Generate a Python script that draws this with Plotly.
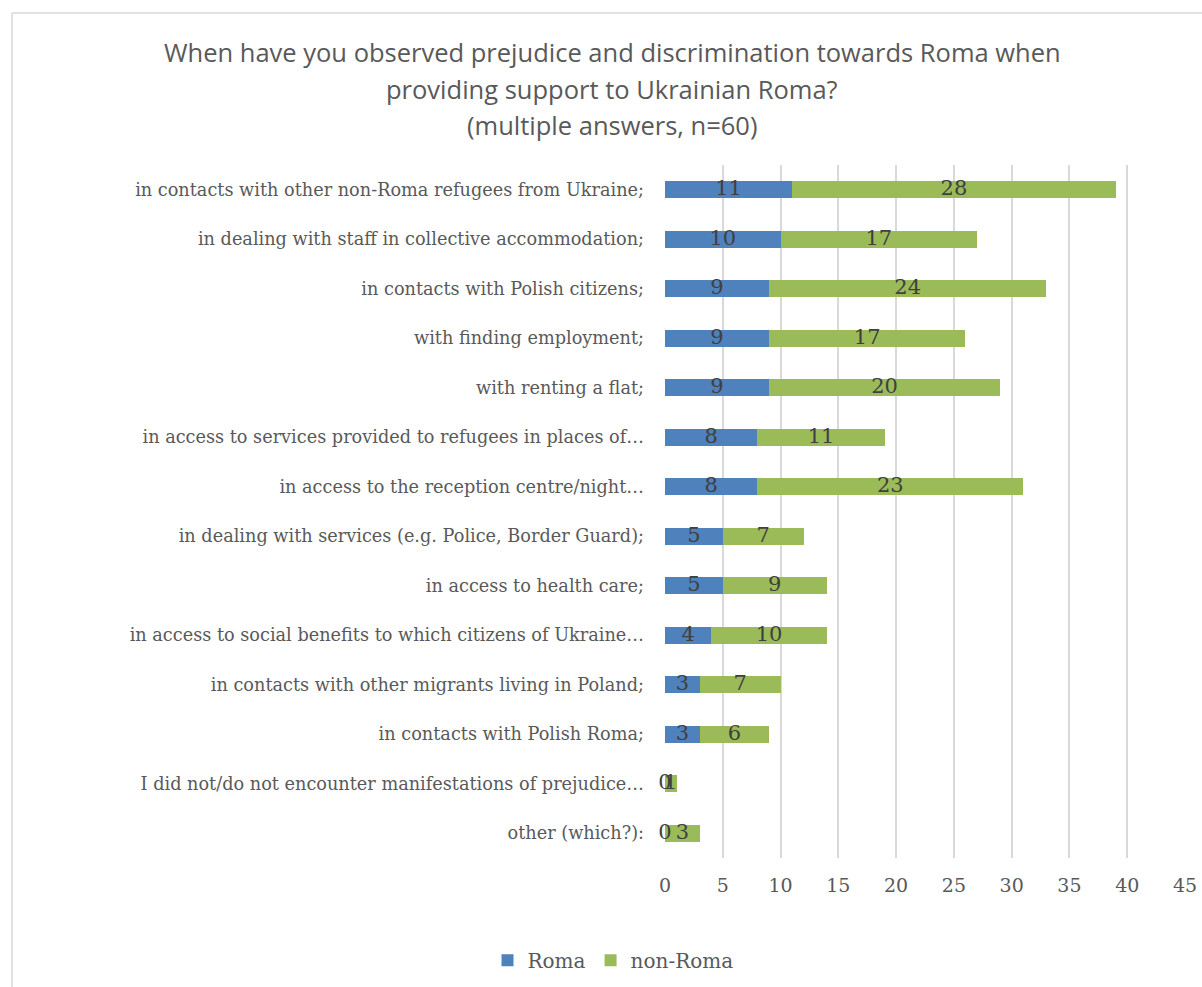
import plotly.graph_objects as go

# Survey answers, listed top to bottom as shown on the chart
categories = [
    "in contacts with other non-Roma refugees from Ukraine;",
    "in dealing with staff in collective accommodation;",
    "in contacts with Polish citizens;",
    "with finding employment;",
    "with renting a flat;",
    "in access to services provided to refugees in places of…",
    "in access to the reception centre/night…",
    "in dealing with services (e.g. Police, Border Guard);",
    "in access to health care;",
    "in access to social benefits to which citizens of Ukraine…",
    "in contacts with other migrants living in Poland;",
    "in contacts with Polish Roma;",
    "I did not/do not encounter manifestations of prejudice…",
    "other (which?):",
]
roma = [11, 10, 9, 9, 9, 8, 8, 5, 5, 4, 3, 3, 0, 0]
non_roma = [28, 17, 24, 17, 20, 11, 23, 7, 9, 10, 7, 6, 1, 3]
x_ticks = [0, 5, 10, 15, 20, 25, 30, 35, 40, 45]
title_lines = [
    "When have you observed prejudice and discrimination towards Roma when",
    "providing support to Ukrainian Roma?",
    "(multiple answers, n=60)",
]

BLUE = "#4F81BD"
GREEN = "#9BBB59"
GREY_TEXT = "#595959"
LABEL_TEXT = "#404040"
SERIF = "DejaVu Serif, Liberation Serif, serif"
SANS = "Open Sans, sans-serif"

fig = go.Figure()
fig.add_trace(go.Bar(
    y=categories, x=roma, orientation="h", name="Roma",
    marker=dict(color=BLUE, line=dict(width=0)),
))
fig.add_trace(go.Bar(
    y=categories, x=non_roma, orientation="h", name="non-Roma",
    marker=dict(color=GREEN, line=dict(width=0)),
))

# Value labels centred on each segment (zero-width segments still get a "0")
roma_mid = [r / 2 for r in roma]
non_roma_mid = [r + n / 2 for r, n in zip(roma, non_roma)]
fig.add_trace(go.Scatter(
    y=categories + categories,
    x=roma_mid + non_roma_mid,
    text=[str(v) for v in roma] + [str(v) for v in non_roma],
    mode="text", textposition="middle center",
    textfont=dict(family=SERIF, size=21, color=LABEL_TEXT),
    showlegend=False, hoverinfo="skip", cliponaxis=False,
))

# Three-line centred heading
title_y = [52, 89, 125]
annotations = [
    dict(text=line, xref="paper", yref="paper",
         x=(612 - 665) / 520, y=(858 - yy) / 693,
         xanchor="center", yanchor="middle", showarrow=False,
         font=dict(family=SANS, size=25.5, color=GREY_TEXT))
    for line, yy in zip(title_lines, title_y)
]

fig.update_layout(
    barmode="stack",
    bargap=0.65,
    width=1202, height=987,
    paper_bgcolor="white", plot_bgcolor="white",
    margin=dict(l=665, r=17, t=165, b=129, autoexpand=False),
    annotations=annotations,
    legend=dict(
        orientation="h", x=0.51, xanchor="center", xref="container",
        y=0.027, yanchor="middle", yref="container",
        font=dict(family=SERIF, size=20, color=GREY_TEXT),
        traceorder="normal", itemwidth=30,
    ),
    xaxis=dict(
        range=[0, 45], tickvals=x_ticks, showgrid=True,
        gridcolor="#D9D9D9", gridwidth=2, zeroline=False,
        showline=False, ticks="",
        tickfont=dict(family=SERIF, size=19, color=GREY_TEXT),
        ticklabelstandoff=14,
    ),
    yaxis=dict(
        range=[len(categories) - 0.5, -0.5], showgrid=False, zeroline=False,
        showline=False, ticks="",
        tickfont=dict(family=SERIF, size=17.7, color=GREY_TEXT),
        ticklabelstandoff=20,
    ),
    shapes=[
        dict(type="line", xref="paper", yref="paper",
             x0=(12 - 665) / 520, x1=(1202 - 665) / 520,
             y0=(858 - 13) / 693, y1=(858 - 13) / 693,
             line=dict(color="#D9D9D9", width=1.5)),
        dict(type="line", xref="paper", yref="paper",
             x0=(12 - 665) / 520, x1=(12 - 665) / 520,
             y0=(858 - 13) / 693, y1=(858 - 1000) / 693,
             line=dict(color="#D9D9D9", width=1.5)),
    ],
)

fig.write_html("out.html")
